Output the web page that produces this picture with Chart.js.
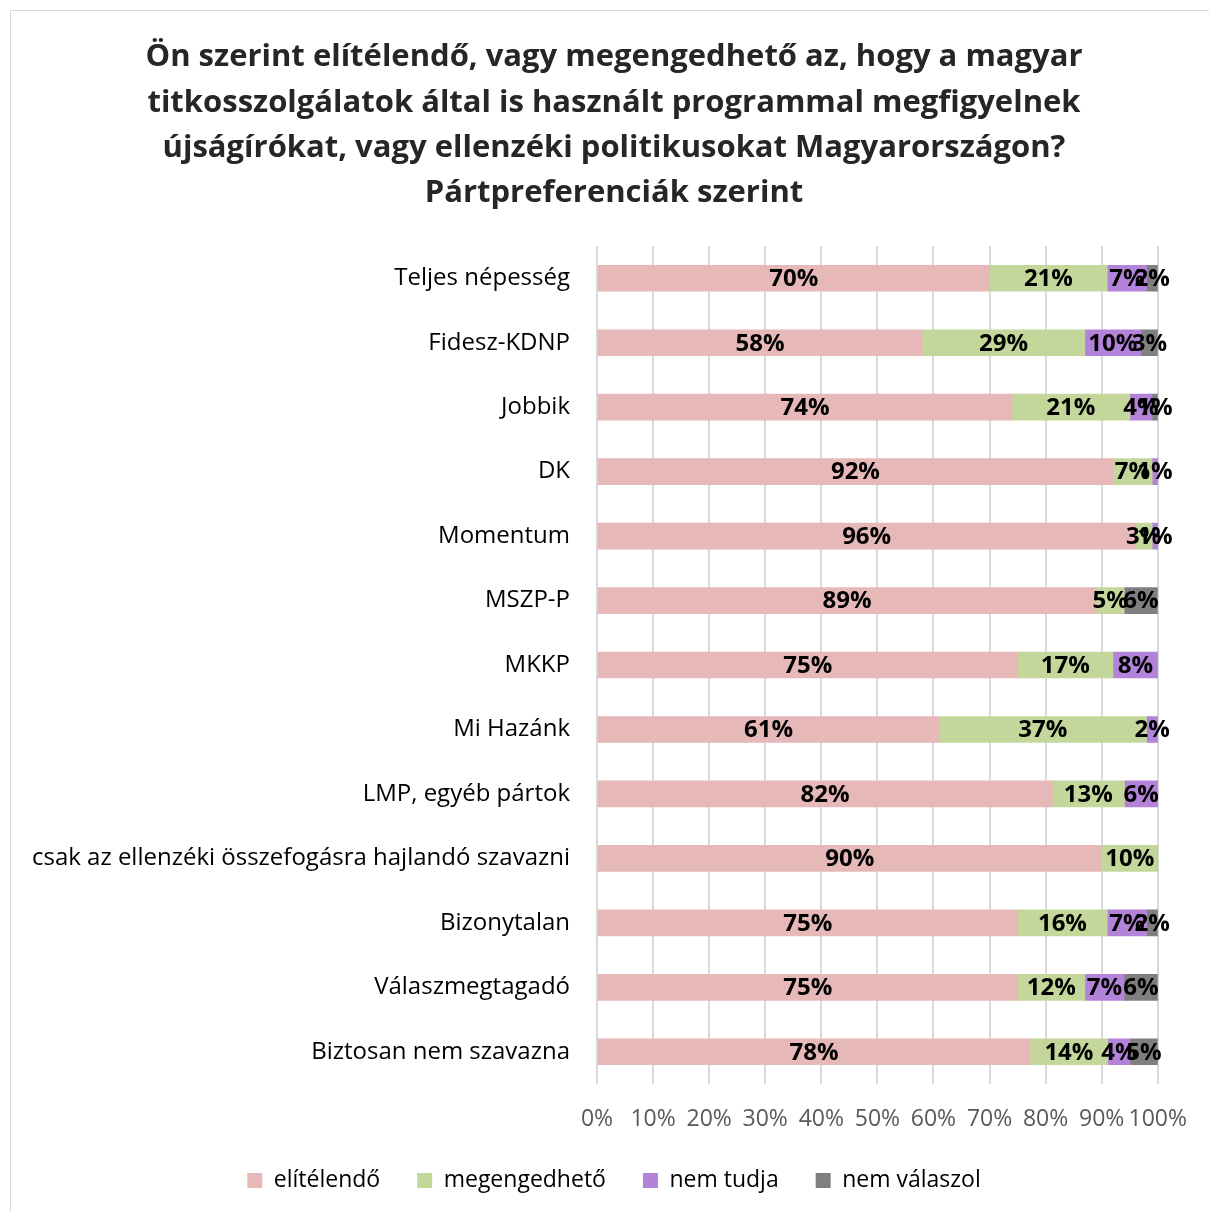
<!DOCTYPE html>
<html>
<head>
<meta charset="utf-8">
<script src="https://cdn.jsdelivr.net/npm/chart.js@4/dist/chart.umd.min.js"></script>
<style>
    html, body { margin: 0; padding: 0; background: #fff; }
    #frame {
        position: absolute; left: 10px; top: 10px; width: 1210px; height: 1220px;
        border: 1px solid #d9d9d9; box-sizing: border-box;
    }
    #wrap { position: absolute; left: 0; top: 0; width: 1209px; height: 1212px; }
</style>
</head>
<body>
<div id="frame"></div>
<div id="wrap"><canvas id="chart" width="1209" height="1212"></canvas></div>
<script>
// Categories and series (values as labelled in the chart, %)
const categories = [
    'Teljes népesség', 'Fidesz-KDNP', 'Jobbik', 'DK', 'Momentum', 'MSZP-P', 'MKKP',
    'Mi Hazánk', 'LMP, egyéb pártok', 'csak az ellenzéki összefogásra hajlandó szavazni',
    'Bizonytalan', 'Válaszmegtagadó', 'Biztosan nem szavazna'
];
const elitelendo    = [70, 58, 74, 92, 96, 89, 75, 61, 82, 90, 75, 75, 78];
const megengedheto  = [21, 29, 21, 7, 3, 5, 17, 37, 13, 10, 16, 12, 14];
const nemTudja      = [7, 10, 4, 1, 1, 0, 8, 2, 6, 0, 7, 7, 4];
const nemValaszol   = [2, 3, 1, 0, 0, 6, 0, 0, 0, 0, 2, 6, 5];
const xTicks = ['0%', '10%', '20%', '30%', '40%', '50%', '60%', '70%', '80%', '90%', '100%'];

const titleLines = [
    'Ön szerint elítélendő, vagy megengedhető az, hogy a magyar',
    'titkosszolgálatok által is használt programmal megfigyelnek',
    'újságírókat, vagy ellenzéki politikusokat Magyarországon?',
    'Pártpreferenciák szerint'
];

const FONT = '"Open Sans", Lato, sans-serif';

// 100% stacked: each row normalised to its total
const totals = categories.map((c, i) => elitelendo[i] + megengedheto[i] + nemTudja[i] + nemValaszol[i]);
const norm = arr => arr.map((v, i) => v / totals[i] * 100);

function makeSet(label, values, color) {
    return {
        label: label,
        data: norm(values),
        raw: values,
        backgroundColor: color,
        borderWidth: 0,
        barThickness: 26
    };
}

// draws the value labels in the middle of each segment
const segmentLabels = {
    id: 'segmentLabels',
    afterLayout(chart) {
        // let the long category labels run left of the padded area (no clipping)
        chart.scales.y.left = 0;
    },
    afterDatasetsDraw(chart) {
        const ctx = chart.ctx;
        ctx.save();
        ctx.font = 'bold 24px ' + FONT;
        ctx.fillStyle = '#000';
        ctx.textAlign = 'center';
        ctx.textBaseline = 'middle';
        chart.data.datasets.forEach((ds, di) => {
            const meta = chart.getDatasetMeta(di);
            meta.data.forEach((bar, i) => {
                const v = ds.raw[i];
                if (!v) return;
                const x = (bar.x + bar.base) / 2;
                ctx.fillText(v + '%', x, bar.y + 1);
            });
        });
        ctx.restore();
    }
};

new Chart(document.getElementById('chart'), {
    type: 'bar',
    data: {
        labels: categories,
        datasets: [
            makeSet('elítélendő', elitelendo, '#e6b9b8'),
            makeSet('megengedhető', megengedheto, '#c4d79b'),
            makeSet('nem tudja', nemTudja, '#b383d9'),
            makeSet('nem válaszol', nemValaszol, '#7f7f7f')
        ]
    },
    options: {
        indexAxis: 'y',
        responsive: false,
        animation: false,
        layout: { padding: { top: 35, right: 50, bottom: 10, left: 69 } },
        plugins: {
            title: {
                display: true,
                text: titleLines,
                color: '#262626',
                font: { family: FONT, size: 31, weight: 'bold', lineHeight: 1.46 },
                padding: { top: 0, bottom: 30 }
            },
            legend: {
                display: true,
                position: 'bottom',
                labels: {
                    color: '#000',
                    font: { family: FONT, size: 23 },
                    boxWidth: 15,
                    boxHeight: 15,
                    padding: 37
                }
            },
            tooltip: { enabled: false }
        },
        scales: {
            x: {
                stacked: true,
                min: 0,
                max: 100,
                grid: { color: '#d9d9d9', lineWidth: 2, drawTicks: false },
                border: { display: false },
                afterFit: scale => { scale.height = 48; },
                ticks: {
                    stepSize: 10,
                    padding: 22,
                    maxRotation: 0,
                    minRotation: 0,
                    autoSkip: false,
                    color: '#595959',
                    font: { family: FONT, size: 23 },
                    callback: (v, i) => xTicks[i]
                }
            },
            y: {
                stacked: true,
                grid: { display: false, drawTicks: false },
                border: { display: false },
                afterFit: scale => { scale.width = 597 - 69; },
                ticks: {
                    padding: 27,
                    color: '#000',
                    font: { family: FONT, size: 24 }
                }
            }
        }
    },
    plugins: [segmentLabels]
});
</script>
</body>
</html>
